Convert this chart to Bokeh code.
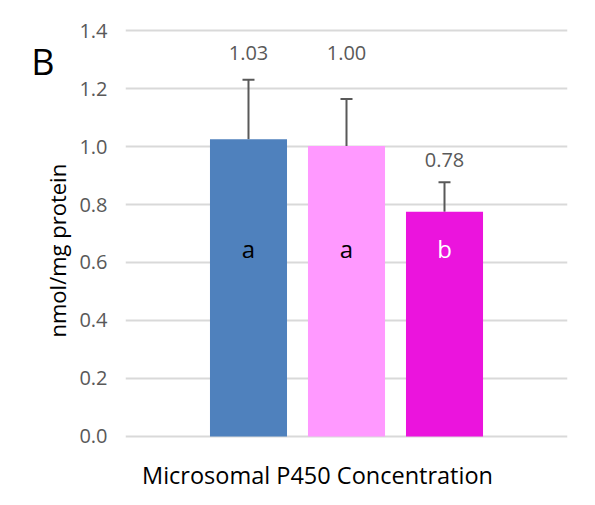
from bokeh.plotting import figure
from bokeh.models import (ColumnDataSource, Range1d, Whisker, TeeHead,
                          FixedTicker, LinearAxis, Title)
from bokeh.core.properties import value
from bokeh.embed import file_html
from bokeh.resources import INLINE

# ---- data ----
series = ["Series 1", "Series 2", "Series 3"]
means = [1.025, 1.002, 0.775]
errors = [0.205, 0.162, 0.102]
value_labels = ["1.03", "1.00", "0.78"]
letters = ["a", "a", "b"]
bar_colors = ["#4F81BD", "#FF99FF", "#EB14DD"]
letter_colors = ["#000000", "#000000", "#FFFFFF"]
y_ticks = [0.0, 0.2, 0.4, 0.6, 0.8, 1.0, 1.2, 1.4]
y_tick_labels = {t: f"{t:.1f}" for t in y_ticks}
x_title = "Microsomal P450 Concentration"
y_title = "nmol/mg protein"
panel_tag = "B"

# layout helpers (not data)
value_label_y = [1.321, 1.321, 0.955]
letter_y = 0.648
tag_y = 1.293
side_pad = 0.755        # empty space either side of the bar group, in bar slots
x_title_pos = 0.704     # x position (in bar-slot units) where the x title is centred

FONT = "Open Sans"
GRAY = "#595959"

x_index = list(range(len(series)))

src = ColumnDataSource(dict(
    series=series, xi=x_index, mean=means,
    upper=[m + e for m, e in zip(means, errors)],
    color=bar_colors, vlabel=value_labels, vy=value_label_y,
    letter=letters, lcolor=letter_colors, ly=[letter_y] * len(series),
))

p = figure(
    width=579, height=497,
    x_range=Range1d(-0.5 - side_pad, len(series) - 0.5 + side_pad),
    y_range=Range1d(-0.007, 1.407),
    x_axis_location=None,
    output_backend="svg", toolbar_location=None,
    min_border_left=125, min_border_right=12, min_border_top=28, min_border_bottom=59,
)
p.outline_line_color = None
p.background_fill_color = "white"
p.border_fill_color = "white"

p.vbar(x="xi", top="mean", bottom=0, width=0.786, color="color", line_color=None, source=src)

whisk = Whisker(source=src, base="xi", lower="mean", upper="upper",
                line_color=GRAY, line_width=2,
                upper_head=TeeHead(size=12, line_color=GRAY, line_width=2),
                lower_head=None)
p.add_layout(whisk)

p.text(x="xi", y="vy", text="vlabel", source=src,
       text_align="center", text_baseline="middle",
       text_font=value(FONT), text_font_size="20px", text_color=GRAY)

p.text(x="xi", y="ly", text="letter", source=src,
       text_align="center", text_baseline="middle",
       text_font=value(FONT), text_font_size="24px", text_color="lcolor")

# grid
p.xgrid.grid_line_color = None
p.ygrid.grid_line_color = "#D9D9D9"
p.ygrid.grid_line_width = 2

# main y axis: tick labels only
ya = p.yaxis[0]
ya.ticker = FixedTicker(ticks=y_ticks)
ya.major_label_overrides = y_tick_labels
ya.axis_line_color = None
ya.major_tick_line_color = None
ya.minor_tick_line_color = None
ya.major_tick_out = 0
ya.major_tick_in = 0
ya.major_label_standoff = 18
ya.major_label_text_font = FONT
ya.major_label_text_font_size = "20px"
ya.major_label_text_color = GRAY

# y title (rotated), anchored from the bottom of the frame
p.add_layout(Title(text=y_title, align="left", offset=101, standoff=10,
                   text_font=FONT, text_font_size="22px", text_font_style="normal",
                   text_color="#000000"), "left")

# panel tag "B" as a tick label of an extra, bare axis
tag_axis = LinearAxis(ticker=FixedTicker(ticks=[tag_y]), major_label_overrides={tag_y: panel_tag},
                      axis_line_color=None, major_tick_line_color=None, minor_tick_line_color=None,
                      major_tick_out=0, major_tick_in=0, major_label_standoff=-20,
                      major_label_text_font=FONT, major_label_text_font_size="36px",
                      major_label_text_color="#000000")
p.add_layout(tag_axis, "left")

# x title below, as the single label of a bare axis
xt_axis = LinearAxis(ticker=FixedTicker(ticks=[x_title_pos]),
                     major_label_overrides={x_title_pos: x_title},
                     axis_line_color=None, major_tick_line_color=None, minor_tick_line_color=None,
                     major_tick_out=0, major_tick_in=0, major_label_standoff=20,
                     major_label_text_font=FONT, major_label_text_font_size="23.5px",
                     major_label_text_color="#000000")
p.add_layout(xt_axis, "below")

open("out.html", "w").write(file_html(p, INLINE))
